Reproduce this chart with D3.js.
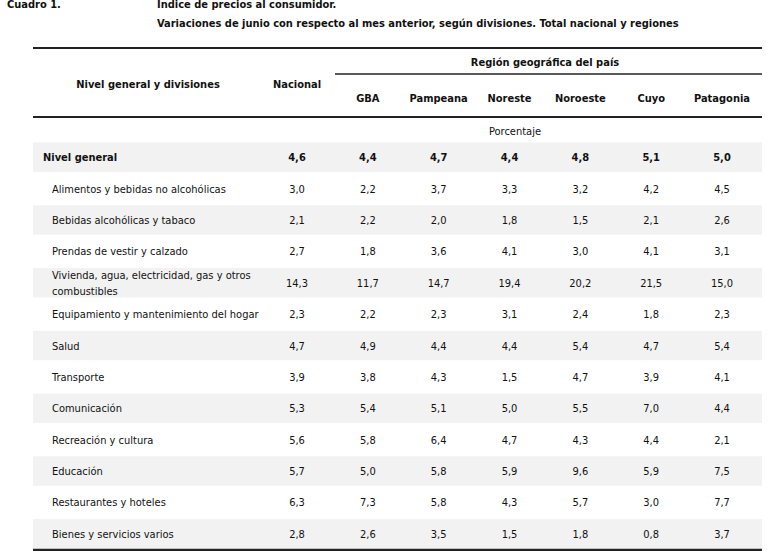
<!DOCTYPE html>
<html><head><meta charset="utf-8">
<script src="https://cdn.jsdelivr.net/npm/d3@7"></script>
<style>body{margin:0;background:#fff}text{font-family:"DejaVu Sans Condensed","Liberation Sans",sans-serif;fill:#111}</style>
</head><body>
<script>
var columns = ["Nacional", "GBA", "Pampeana", "Noreste", "Noroeste", "Cuyo", "Patagonia"];
var divisions = ["Nivel general", "Alimentos y bebidas no alcohólicas", "Bebidas alcohólicas y tabaco",
  "Prendas de vestir y calzado", "Vivienda, agua, electricidad, gas y otros|combustibles",
  "Equipamiento y mantenimiento del hogar", "Salud", "Transporte", "Comunicación",
  "Recreación y cultura", "Educación", "Restaurantes y hoteles", "Bienes y servicios varios"];
var values = [
  ["4,6","4,4","4,7","4,4","4,8","5,1","5,0"],
  ["3,0","2,2","3,7","3,3","3,2","4,2","4,5"],
  ["2,1","2,2","2,0","1,8","1,5","2,1","2,6"],
  ["2,7","1,8","3,6","4,1","3,0","4,1","3,1"],
  ["14,3","11,7","14,7","19,4","20,2","21,5","15,0"],
  ["2,3","2,2","2,3","3,1","2,4","1,8","2,3"],
  ["4,7","4,9","4,4","4,4","5,4","4,7","5,4"],
  ["3,9","3,8","4,3","1,5","4,7","3,9","4,1"],
  ["5,3","5,4","5,1","5,0","5,5","7,0","4,4"],
  ["5,6","5,8","6,4","4,7","4,3","4,4","2,1"],
  ["5,7","5,0","5,8","5,9","9,6","5,9","7,5"],
  ["6,3","7,3","5,8","4,3","5,7","3,0","7,7"],
  ["2,8","2,6","3,5","1,5","1,8","0,8","3,7"]];

var svg = d3.select("body").append("svg").attr("width", 780).attr("height", 551);
var x = d3.scalePoint().domain(columns).range([297, 722]);
var y = d3.scaleBand().domain(d3.range(divisions.length)).range([141.5, 549.5]);
var L = 33, R = 762, fs = 11;

svg.append("text").attr("x", 7).attr("y", 8).attr("font-weight", "bold").attr("font-size", 11).text("Cuadro 1.");
svg.append("text").attr("x", 157).attr("y", 8).attr("font-weight", "bold").attr("font-size", 11).text("Índice de precios al consumidor.");
svg.append("text").attr("x", 157).attr("y", 27).attr("font-weight", "bold").attr("font-size", 11)
  .text("Variaciones de junio con respecto al mes anterior, según divisiones. Total nacional y regiones");

// stripes
svg.selectAll("rect.s").data(d3.range(divisions.length).filter(function(i){ return i % 2 == 0; }))
  .enter().append("rect").attr("x", L).attr("width", R - L)
  .attr("y", function(i){ return y(i) + 1; }).attr("height", y.bandwidth() - 2).attr("fill", "#f2f2f2");

function rule(x1, x2, yy, w) {
  svg.append("line").attr("x1", x1).attr("x2", x2).attr("y1", yy).attr("y2", yy)
    .attr("stroke", "#222").attr("stroke-width", w);
}
rule(L, R, 48, 2); rule(335, R, 74, 1.5); rule(L, R, 117, 2); rule(L, R, 550, 2.5);

svg.append("text").attr("x", 148).attr("y", 88).attr("text-anchor", "middle").attr("font-weight", "bold").attr("font-size", fs).text("Nivel general y divisiones");
svg.append("text").attr("x", x("Nacional")).attr("y", 88).attr("text-anchor", "middle").attr("font-weight", "bold").attr("font-size", fs).text("Nacional");
svg.append("text").attr("x", 545).attr("y", 66).attr("text-anchor", "middle").attr("font-weight", "bold").attr("font-size", fs).text("Región geográfica del país");
svg.selectAll("text.h").data(columns.slice(1)).enter().append("text")
  .attr("x", function(d){ return x(d); }).attr("y", 102).attr("text-anchor", "middle")
  .attr("font-weight", "bold").attr("font-size", fs).text(function(d){ return d; });
svg.append("text").attr("x", 515).attr("y", 135).attr("text-anchor", "middle").attr("font-size", fs).text("Porcentaje");

var rows = svg.selectAll("g.r").data(divisions).enter().append("g")
  .attr("transform", function(d, i){ return "translate(0," + (y(i) + y.bandwidth() / 2) + ")"; });
rows.each(function(d, i) {
  var g = d3.select(this);
  var parts = d.split("|");
  var t = g.append("text").attr("font-size", fs).attr("font-weight", i == 0 ? "bold" : null);
  parts.forEach(function(p, k) {
    t.append("tspan").attr("x", i == 0 ? 43 : 52)
      .attr("y", parts.length > 1 ? (k == 0 ? -4 : 12) : 4).text(p);
  });
  g.selectAll("text.v").data(values[i]).enter().append("text")
    .attr("x", function(v, j){ return x(columns[j]); }).attr("y", 4)
    .attr("text-anchor", "middle").attr("font-size", fs)
    .attr("font-weight", i == 0 ? "bold" : null).text(function(v){ return v; });
});
</script>
</body></html>
